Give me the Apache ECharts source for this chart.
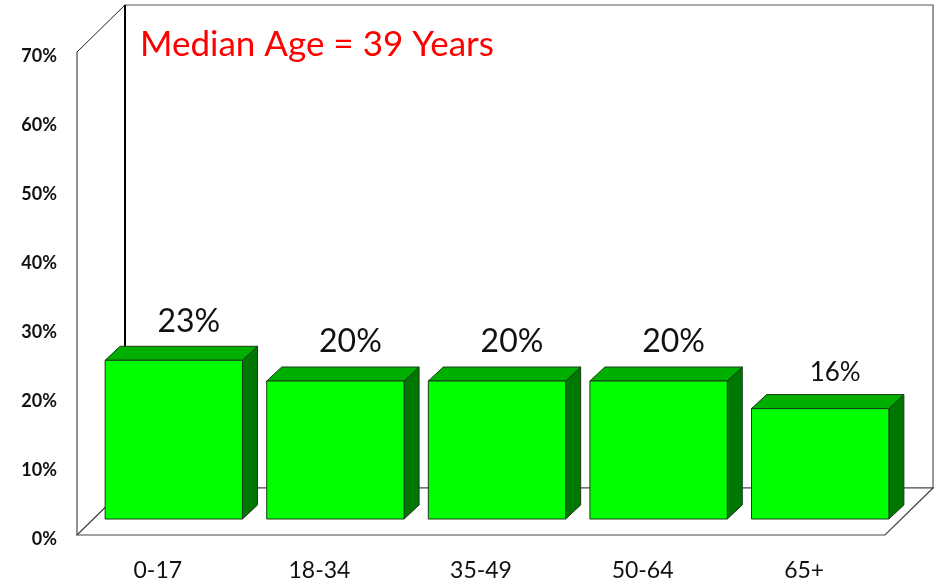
<!DOCTYPE html>
<html>
<head>
<meta charset="utf-8">
<script src="https://cdn.jsdelivr.net/npm/echarts@6/dist/echarts.min.js"></script>
<style>html,body{margin:0;padding:0;background:#fff}#c{width:941px;height:587px}</style>
</head>
<body>
<div id="c"></div>
<script>
// ---- data ----
const categories = ['0-17', '18-34', '35-49', '50-64', '65+'];
const values = [23, 20, 20, 20, 16];
const valueLabels = ['23%', '20%', '20%', '20%', '16%'];
const yTicks = [0, 10, 20, 30, 40, 50, 60, 70];
const titleText = 'Median Age = 39 Years';

// ---- style ----
const FONT = 'Lato, "Open Sans", sans-serif';
const labelFontSizes = [32, 32, 32, 32, 26];
const WALL_DX = 48, WALL_DY = -47;   // depth of the box
const BAR_DX = 15, BAR_DY = -14;     // depth of each bar
const BAR_FRAC = 0.85;

const chart = echarts.init(document.getElementById('c'), null, {renderer: 'canvas'});

function wallsRender(params, api) {
  const cs = params.coordSys;
  const x = cs.x, y = cs.y, w = cs.width, h = cs.height;
  const b = y + h;
  return {
    type: 'group',
    children: [
      { type: 'rect', shape: {x: x + WALL_DX, y: y + WALL_DY, width: w, height: h},
        style: {fill: '#fff', stroke: '#555', lineWidth: 1.2} },
      { type: 'polygon', shape: {points: [[x, b], [x, y], [x + WALL_DX, y + WALL_DY], [x + WALL_DX, b + WALL_DY]]},
        style: {fill: '#fff', stroke: '#222', lineWidth: 1} },
      { type: 'polygon', shape: {points: [[x, b], [x + w, b], [x + w + WALL_DX, b + WALL_DY], [x + WALL_DX, b + WALL_DY]]},
        style: {fill: '#fff', stroke: '#444', lineWidth: 1.2} },
      { type: 'line', shape: {x1: x + WALL_DX, y1: y + WALL_DY, x2: x + WALL_DX, y2: b + WALL_DY},
        style: {stroke: '#000', lineWidth: 2} }
    ]
  };
}

function barRender(params, api) {
  const idx = api.value(0);
  const val = api.value(1);
  const top = api.coord([idx, val]);
  const base = api.coord([idx, 0]);
  const bw = api.size([1, 0])[0] * BAR_FRAC;
  const x0 = top[0] - bw / 2, x1 = top[0] + bw / 2;
  const yt = top[1], yb = base[1];
  const edge = {stroke: '#1a3a1a', lineWidth: 1};
  return {
    type: 'group',
    children: [
      { type: 'polygon', shape: {points: [[x1, yt], [x1 + BAR_DX, yt + BAR_DY], [x1 + BAR_DX, yb + BAR_DY], [x1, yb]]},
        style: Object.assign({fill: '#007800'}, edge) },
      { type: 'polygon', shape: {points: [[x0, yt], [x0 + BAR_DX, yt + BAR_DY], [x1 + BAR_DX, yt + BAR_DY], [x1, yt]]},
        style: Object.assign({fill: '#00b000'}, edge) },
      { type: 'rect', shape: {x: x0, y: yt, width: bw, height: yb - yt},
        style: Object.assign({fill: '#00ff00'}, edge) },
      { type: 'text', x: top[0] + BAR_DX, y: yt + BAR_DY - 9,
        style: {text: valueLabels[idx], fill: '#111', font: labelFontSizes[idx] + 'px ' + FONT,
                align: 'center', verticalAlign: 'bottom'} }
    ]
  };
}

chart.setOption({
  animation: false,
  backgroundColor: '#fff',
  title: {
    text: titleText, left: 135, top: 22,
    textStyle: {color: '#ff0000', fontSize: 35, fontWeight: 'normal', fontFamily: FONT}
  },
  grid: [
    {left: 93, right: 40, top: 36, bottom: 68},   // bar front plane
    {left: 77, right: 56, top: 52, bottom: 52},   // box front plane (category labels, walls)
    {left: 77, right: 56, top: 56, bottom: 48}    // value tick labels (old-style figure baseline)
  ],
  xAxis: [
    {gridIndex: 0, type: 'category', data: categories, show: false},
    {gridIndex: 1, type: 'category', data: categories,
     axisLine: {show: false}, axisTick: {show: false},
     axisLabel: {margin: 24, fontSize: 23, color: '#111', fontFamily: FONT}},
    {gridIndex: 2, type: 'category', data: categories, show: false}
  ],
  yAxis: [
    {gridIndex: 0, type: 'value', min: 0, max: 70, interval: 10, show: false},
    {gridIndex: 1, type: 'value', min: 0, max: 70, interval: 10, show: false},
    {gridIndex: 2, type: 'value', min: yTicks[0], max: yTicks[yTicks.length - 1], interval: 10,
     axisLine: {show: false}, axisTick: {show: false}, splitLine: {show: false},
     axisLabel: {formatter: '{value}%', margin: 20, fontSize: 18, fontWeight: 'bold', color: '#111',
                 fontFamily: FONT}}
  ],
  series: [
    {type: 'custom', xAxisIndex: 1, yAxisIndex: 1, data: [[0, 0]], renderItem: wallsRender, z: 1, silent: true},
    {type: 'custom', xAxisIndex: 0, yAxisIndex: 0, data: values.map((v, i) => [i, v]),
     renderItem: barRender, z: 5, silent: true}
  ]
});
</script>
</body>
</html>
